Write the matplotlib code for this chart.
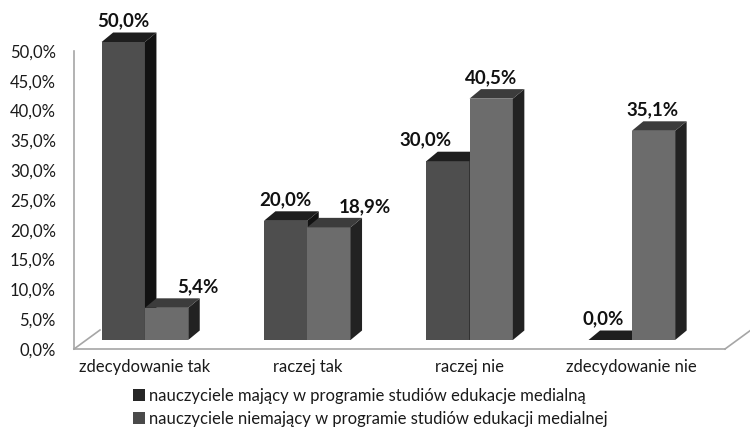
import matplotlib
matplotlib.use("Agg")
import matplotlib.pyplot as plt
from matplotlib.patches import Polygon, Patch
from matplotlib.ticker import FuncFormatter

# --- data -----------------------------------------------------------------
categories = ["zdecydowanie tak", "raczej tak", "raczej nie", "zdecydowanie nie"]
series_names = [
    "nauczyciele mający w programie studiów edukacje medialną",
    "nauczyciele niemający w programie studiów edukacji medialnej",
]
with_media = [50.0, 20.0, 30.0, 0.0]
without_media = [5.4, 18.9, 40.5, 35.1]
y_ticks = [0, 5, 10, 15, 20, 25, 30, 35, 40, 45, 50]

# --- styling --------------------------------------------------------------
FONT = ["Lato", "DejaVu Sans"]
plt.rcParams["font.family"] = FONT

W, H, DPI = 750, 429, 100
fig = plt.figure(figsize=(W / DPI, H / DPI), dpi=DPI)

# plot area (front plane of the pseudo-3D box), in pixels
left_px, right_px, bottom_px, top_px = 74, 725, 349, 51
ax = fig.add_axes([left_px / W, (H - bottom_px) / H,
                   (right_px - left_px) / W, (bottom_px - top_px) / H])

px_per_x = 162.3
xmin = -0.357
xmax = xmin + (right_px - left_px) / px_per_x
ax.set_xlim(xmin, xmax)
ax.set_ylim(0, 50)
px_per_y = (bottom_px - top_px) / 50.0

# depth offsets
ox, oy = 13 / px_per_x, 9 / px_per_y          # bar plane behind the front plane
ddx, ddy = 11.5 / px_per_x, 9.5 / px_per_y    # depth of each bar
fdx, fdy = 26 / px_per_x, 19 / px_per_y       # depth of the floor
bar_w = 43.3 / px_per_x

colors = [
    dict(front="#4e4e4e", top="#1e1e1e", side="#121212", legend="#262626"),
    dict(front="#6c6c6c", top="#3c3c3c", side="#222222", legend="#4a4a4a"),
]
label_dx = [[0, 31], [0, 36], [-22, 0], [-7, -1]]   # label nudges in pixels

z = 3
for i in range(len(categories)):
    for s, vals in enumerate([with_media, without_media]):
        v = vals[i]
        c = colors[s]
        x0 = i + ox - bar_w + s * bar_w
        y0 = oy
        ax.bar(x0, v, width=bar_w, bottom=y0, align="edge", color=c["front"],
               linewidth=0, zorder=z, clip_on=False)
        side = Polygon([(x0 + bar_w, y0), (x0 + bar_w, y0 + v),
                        (x0 + bar_w + ddx, y0 + v + ddy), (x0 + bar_w + ddx, y0 + ddy)],
                       closed=True, facecolor=c["side"], edgecolor="none", zorder=z,
                       clip_on=False)
        top = Polygon([(x0, y0 + v), (x0 + bar_w, y0 + v),
                       (x0 + bar_w + ddx, y0 + v + ddy), (x0 + ddx, y0 + v + ddy)],
                      closed=True, facecolor=c["top"], edgecolor="none", zorder=z,
                      clip_on=False)
        ax.add_patch(side)
        ax.add_patch(top)
        ax.annotate(f"{v:.1f}%".replace(".", ","),
                    xy=(x0 + bar_w / 2, y0 + v + ddy),
                    xytext=(label_dx[i][s], 3), textcoords="offset pixels",
                    ha="center", va="bottom", fontsize=13.5, fontweight="bold",
                    color="#111111", zorder=20, annotation_clip=False)
        z += 1

# floor edges
edge = "#a6a6a6"
for xe in (xmin, xmax):
    ax.plot([xe, xe + fdx], [0, fdy], color=edge, lw=1.2, clip_on=False, zorder=2)

for side_name in ("top", "right"):
    ax.spines[side_name].set_visible(False)
for side_name in ("left", "bottom"):
    ax.spines[side_name].set_color(edge)
    ax.spines[side_name].set_linewidth(1.2)

ax.set_yticks(y_ticks)
ax.yaxis.set_major_formatter(FuncFormatter(lambda v, p: f"{v:.1f}%".replace(".", ",")))
ax.tick_params(axis="y", length=0, pad=13, labelsize=12, labelcolor="#1a1a1a")
ax.set_xticks([i + ox for i in range(len(categories))])
ax.set_xticklabels(categories)
ax.tick_params(axis="x", length=0, pad=7, labelsize=12, labelcolor="#1a1a1a")
ax.patch.set_visible(False)

handles = [Patch(facecolor=c["legend"], edgecolor="none") for c in colors]
fig.legend(handles, series_names, loc="upper left",
           bbox_to_anchor=(133 / W, 1 - 388 / H), frameon=False,
           fontsize=12, handlelength=0.7, handleheight=0.7,
           handletextpad=0.25, labelspacing=0.4, borderaxespad=0,
           borderpad=0, labelcolor="#1a1a1a")

fig.savefig("out.png", dpi=DPI, facecolor="white")
